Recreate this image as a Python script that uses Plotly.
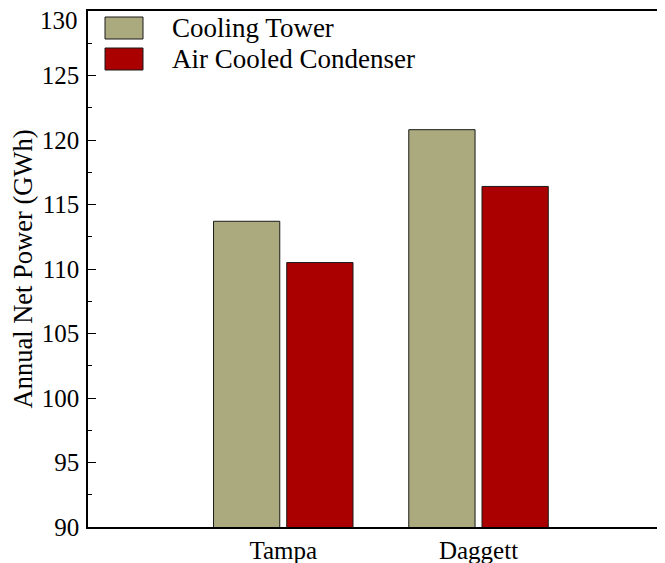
import plotly.graph_objects as go

# ---- data ----
sites = ["Tampa", "Daggett"]
series_names = ["Cooling Tower", "Air Cooled Condenser"]
cooling_tower = [113.7, 120.8]
air_cooled = [110.5, 116.4]
y_tick_vals = [90, 95, 100, 105, 110, 115, 120, 125]
y_top_label = 130
y_title = "Annual Net Power (GWh)"

colors = ["#AAAA7E", "#AA0000"]
FONT = "Liberation Serif"

fig = go.Figure()
for name, vals, col in zip(series_names, [cooling_tower, air_cooled], colors):
    fig.add_trace(go.Bar(
        x=sites, y=vals, name=name,
        marker=dict(color=col, line=dict(color="#1a1a1a", width=1)),
        showlegend=False,
    ))

# page body has an 8px margin: size the figure so the plot lands where it should
OFF = 8
W, H = 665 - OFF, 563 - OFF
L, R, T, B = 88 - OFF, 0, 11 - OFF, 563 - 527
pw, ph = W - L - R, H - T - B


def px_x(x):
    return (x - OFF - L) / pw


def px_y(y):
    return (H - B - (y - OFF)) / ph


legend_rows = [(17, 39), (48, 70)]
for (y0, y1), name, col in zip(legend_rows, series_names, colors):
    fig.add_shape(type="rect", xref="paper", yref="paper",
                  x0=px_x(105), x1=px_x(143), y0=px_y(y1), y1=px_y(y0),
                  fillcolor=col, line=dict(color="#1a1a1a", width=1))
    fig.add_annotation(xref="paper", yref="paper", x=px_x(170), y=px_y((y0 + y1) / 2),
                       text=name, showarrow=False, xanchor="left", yanchor="middle",
                       font=dict(family=FONT, size=27, color="black"))

# top tick label, nudged down inside the figure as in the reference
fig.add_annotation(xref="paper", yref="y", x=0, y=y_top_label, text=str(y_top_label),
                   showarrow=False, xanchor="right", yanchor="middle",
                   xshift=-8, yshift=-9,
                   font=dict(family=FONT, size=25, color="black"))

fig.update_layout(
    width=W, height=H,
    margin=dict(l=L, r=R, t=T, b=B, autoexpand=False),
    paper_bgcolor="white", plot_bgcolor="white",
    barmode="group", bargap=0.25, bargroupgap=0.095,
    font=dict(family=FONT, size=25, color="black"),
    showlegend=False,
)
fig.update_xaxes(
    range=[-1.0, 1.955], showgrid=False, zeroline=False,
    showline=True, linecolor="black", linewidth=1.5, mirror=True,
    ticks="", tickfont=dict(family=FONT, size=25),
)
fig.update_yaxes(
    range=[90, 130], tickmode="array", tickvals=y_tick_vals,
    showgrid=False, zeroline=False,
    showline=True, linecolor="black", linewidth=1.5, mirror=False,
    ticks="inside", ticklen=8, tickwidth=1, tickcolor="black",
    ticklabelstandoff=2,
    minor=dict(ticks="inside", ticklen=4, tickmode="linear", tick0=90, dtick=2.5,
               tickcolor="black", tickwidth=1),
    tickfont=dict(family=FONT, size=25),
    title=dict(text=y_title, font=dict(family=FONT, size=26.5), standoff=4),
)

fig.write_html("out.html")
